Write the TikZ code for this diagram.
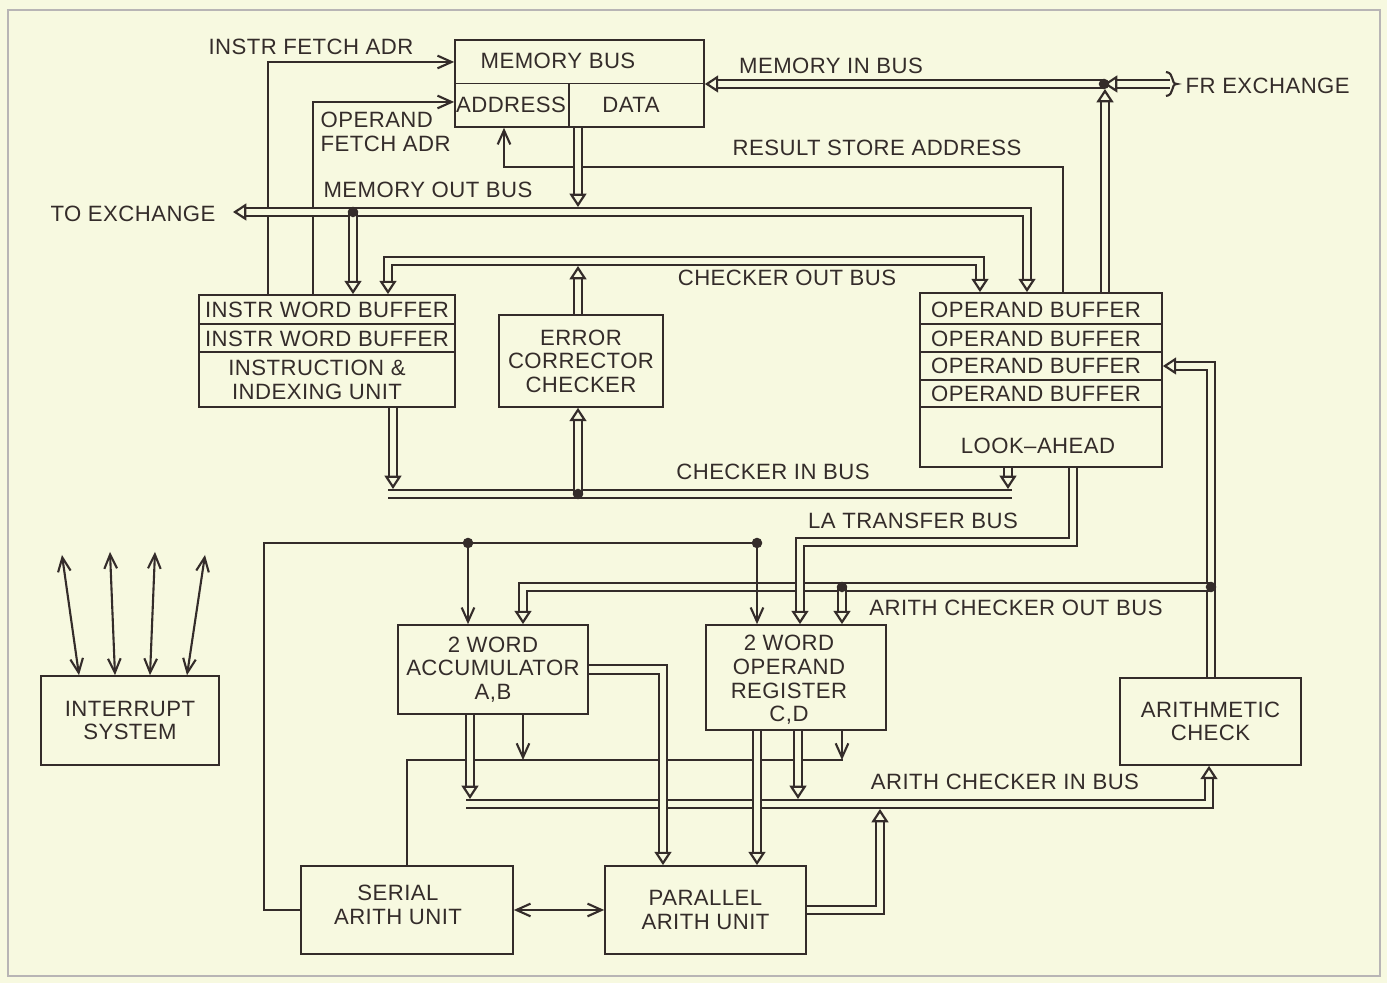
\documentclass[tikz,border=0pt]{standalone}
\usepackage{fontspec}
\setmainfont[LetterSpace=2]{Liberation Sans}
\usetikzlibrary{arrows.meta,positioning}
\definecolor{paper}{RGB}{247,249,224}
\definecolor{ink}{RGB}{52,44,42}
\tikzset{
  every node/.append style={font=\fontsize{6.3}{6.7}\selectfont, text=ink},
  blk/.style={draw=ink, line width=0.45pt, inner sep=0pt, align=center},
  lbl/.style={inner sep=0pt},
  wire/.style={draw=ink, line width=0.6pt},
  barb/.style={-{Straight Barb[length=4pt, width=3.6pt]}},
  bibarb/.style={{Straight Barb[length=4pt, width=3.6pt]}-{Straight Barb[length=4pt, width=3.6pt]}},
  bus/.style={draw=ink, double=paper, double distance=1.8pt, line width=0.62pt},
  tri/.style={-{Triangle[open, length=3.8pt, width=4.8pt]}},
  bitri/.style={{Triangle[open, length=3.8pt, width=4.8pt]}-{Triangle[open, length=3.8pt, width=4.8pt]}},
  dot/.style={circle, fill=ink, inner sep=0pt, minimum size=3pt},
}
\begin{document}
\begin{tikzpicture}[x=0.01cm, y=-0.01cm]
  \fill[paper] (0,0) rectangle (1387,983);
  \useasboundingbox (0,0) rectangle (1387,983);
  \draw[ink!35, line width=0.3pt] (8,10) rectangle (1380,976);

  % Blocks
  \node[blk, minimum width=2.49cm, minimum height=0.87cm] (mem) at (579.5,83.5) {};
  \draw[ink, line width=0.45pt] (mem.west) -- (mem.east) (569,0 |- mem.center) -- (569,0 |- mem.south);
  \node[lbl] (membus) at (558,61) {MEMORY BUS};
  \node[lbl] (memadr) at (511,105) {ADDRESS};
  \node[lbl] (memdat) at (631,105) {DATA};

  \node[blk, minimum width=2.56cm, minimum height=1.12cm] (ibuf) at (327,351) {};
  \draw[ink, line width=0.45pt] (ibuf.west |- 0,324) -- (ibuf.east |- 0,324) (ibuf.west |- 0,352) -- (ibuf.east |- 0,352);
  \node[lbl] (iwb1) at (327,310) {INSTR WORD BUFFER};
  \node[lbl] (iwb2) at (327,339) {INSTR WORD BUFFER};
  \node[lbl, align=center] (iiu) at (317,380) {INSTRUCTION \&\\INDEXING UNIT};

  \node[blk, minimum width=1.64cm, minimum height=0.92cm] (ecc) at (581,361) {ERROR\\CORRECTOR\\CHECKER};

  \node[blk, minimum width=2.42cm, minimum height=1.74cm] (obuf) at (1041,380) {};
  \foreach \y in {324,352,380,407}
    \draw[ink, line width=0.45pt] (obuf.west |- 0,\y) -- (obuf.east |- 0,\y);
  \foreach \y [count=\i] in {310,339,366,394}
    \node[lbl] (ob\i) at (1036,\y) {OPERAND BUFFER};
  \node[lbl] (la) at (1038,446) {LOOK--AHEAD};

  \node[blk, minimum width=1.78cm, minimum height=0.89cm] (intr) at (130,720.5) {INTERRUPT\\SYSTEM};
  \node[blk, minimum width=1.90cm, minimum height=0.89cm] (acc) at (493,669.5) {2 WORD\\ACCUMULATOR\\A,B};
  \node[blk, minimum width=1.80cm, minimum height=1.05cm] (oreg) at (796,677.5) {};
  \node[lbl, align=center] (oregt) at (789,680) {2 WORD\\OPERAND\\REGISTER\\C,D};
  \node[blk, minimum width=1.81cm, minimum height=0.87cm] (achk) at (1210.5,721.5) {ARITHMETIC\\CHECK};
  \node[blk, minimum width=2.12cm, minimum height=0.88cm] (sau) at (407,910) {};
  \node[lbl, align=center] (saut) at (398,905) {SERIAL\\ARITH UNIT};
  \node[blk, minimum width=2.01cm, minimum height=0.88cm] (pau) at (705.5,910) {PARALLEL\\ARITH UNIT};

  % Address lines
  \draw[wire, barb] (268,0 |- ibuf.north) |- (mem.west |- 0,62);
  \draw[wire, barb] (313,0 |- ibuf.north) |- (mem.west |- 0,102);
  \draw[wire, barb] (1063,0 |- obuf.north) |- (504,167) -- (504,0 |- mem.south);
  \node[lbl] (ifa) at (311,47) {INSTR FETCH ADR};
  \node[lbl, anchor=west, align=left] (ofa) at (320,132) {OPERAND\\FETCH ADR};
  \node[lbl] (rsa) at (877,148) {RESULT STORE ADDRESS};

  % Memory in bus
  \coordinate (frx) at (1170,84);
  \coordinate (jct) at (1104,84);
  \draw[bus, tri] (frx) -- (jct);
  \draw[bus, tri] (jct) -- (mem.east |- jct);
  \draw[bus, tri] (1105,0 |- obuf.north) -- (1105,89);
  \node[dot] (d0) at (jct) {};
  \draw[wire] (1166,72) .. controls (1175,73) and (1170,84) .. (1177,84) .. controls (1170,84) and (1175,95) .. (1166,96);
  \node[lbl, anchor=west] (frxl) at (1185,86) {FR EXCHANGE};
  \node[lbl] (mib) at (831,66) {MEMORY IN BUS};

  % Memory out bus
  \coordinate (toex) at (233,212);
  \draw[bus, tri] (578,0 |- mem.south) -- (578,207);
  \draw[bus, bitri] (toex) -| (1027,0 |- obuf.north);
  \draw[bus, tri] (353,212) -- (353,0 |- ibuf.north);
  \node[dot] (d1) at (353,212) {};
  \node[lbl] (tox) at (133,214) {TO EXCHANGE};
  \node[lbl] (mob) at (428,190) {MEMORY OUT BUS};

  % Checker buses
  \draw[bus, tri] (578,0 |- ecc.north) -- (578,266);
  \draw[bus, bitri] (388,0 |- ibuf.north) |- (980,261) -- (980,0 |- obuf.north);
  \node[lbl] (cob) at (787,278) {CHECKER OUT BUS};
  \draw[bus] (388,494) -- (1012,494);
  \draw[bus, tri] (393,0 |- ibuf.south) -- (393,489);
  \draw[bus, tri] (1008,0 |- obuf.south) -- (1008,489);
  \draw[bus, tri] (578,494) -- (578,0 |- ecc.south);
  \node[dot] (d2) at (578,494) {};
  \node[lbl] (cib) at (773,472) {CHECKER IN BUS};

  % Arith checker out bus
  \draw[bus, tri] (1211,0 |- achk.north) |- (obuf.east |- 0,366);
  \draw[bus, tri] (1211,587) -| (523,0 |- acc.north);
  \draw[bus, tri] (842,587) -- (842,0 |- oreg.north);
  \node[dot] (d3) at (1211,587) {};
  \node[dot] (d4) at (842,587) {};
  \node[lbl] (acob) at (1016,608) {ARITH CHECKER OUT BUS};

  % LA transfer bus
  \draw[bus, tri] (1073,0 |- obuf.south) |- (800,542) -- (800,0 |- oreg.north);
  \node[lbl] (lat) at (913,521) {LA TRANSFER BUS};

  % Control lines
  \draw[wire] (sau.west) -| (264,543) -- (757,543);
  \draw[wire, barb] (468,543) -- (468,0 |- acc.north);
  \draw[wire, barb] (757,543) -- (757,0 |- oreg.north);
  \node[dot] (d5) at (468,543) {};
  \node[dot] (d6) at (757,543) {};
  \draw[wire] (sau.north) |- (843,760);
  \draw[wire, barb] (523,0 |- acc.south) -- (523,760);
  \draw[wire, barb] (842,0 |- oreg.south) -- (842,760);

  % Arith checker in bus
  \draw[bus, tri] (466,804) -| (1209,0 |- achk.south);
  \draw[bus, tri] (470,0 |- acc.south) -- (470,799);
  \draw[bus, tri] (798,0 |- oreg.south) -- (798,799);
  \draw[bus, tri] (pau.east) -| (880,809);
  \node[lbl] (acib) at (1005,782) {ARITH CHECKER IN BUS};

  % Parallel unit inputs
  \draw[bus, tri] (acc.east) -| (663,0 |- pau.north);
  \draw[bus, tri] (757,0 |- oreg.south) -- (757,0 |- pau.north);
  \draw[wire, bibarb] (sau.east) -- (pau.west);

  % Interrupt lines
  \foreach \xb/\xt/\yt [count=\i] in {79/62/555,115/110/552,150/155/552,187/205/555} {
    \coordinate (irq\i) at (\xt,\yt);
    \draw[wire, bibarb] (\xb,0 |- intr.north) -- (irq\i);
  }
\end{tikzpicture}
\end{document}
